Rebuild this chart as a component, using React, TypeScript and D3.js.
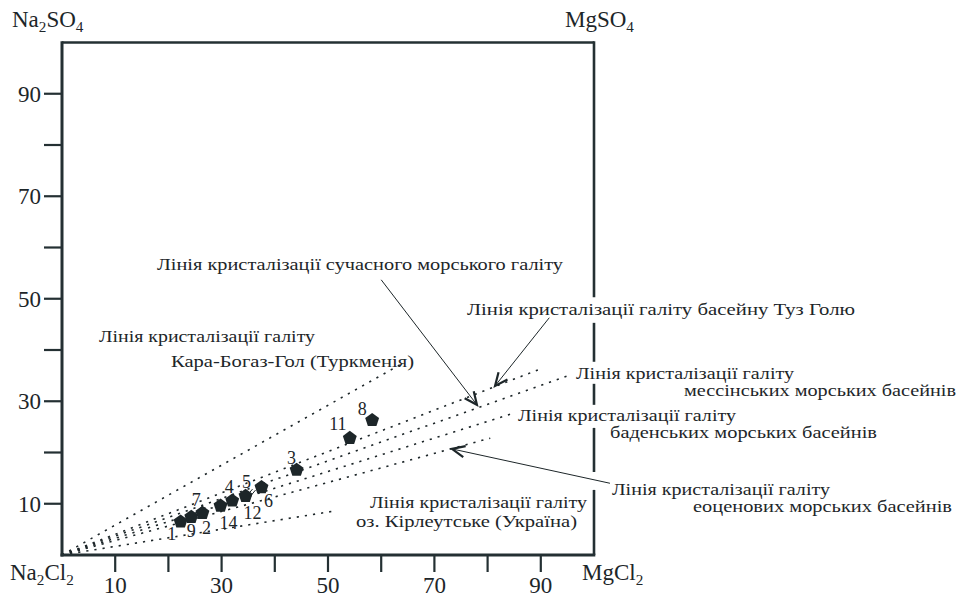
import React from "react";
import * as d3 from "d3";

// ---------- data ----------
const sampleIds = ["1", "9", "2", "14", "4", "12", "6", "3", "11", "8"];
const mgcl2Values = [22.3, 24.3, 26.4, 29.8, 32.0, 34.5, 37.5, 44.1, 54.1, 58.3];
const na2so4Values = [6.5, 7.4, 8.2, 9.6, 10.6, 11.5, 13.2, 16.6, 22.8, 26.3];

// extra number labels attached to points: [pointIndex, text, dx, dy]
const pointLabels: [number, string, number, number][] = [
  [0, "1", -9, 18],
  [1, "9", 0, 20],
  [1, "7", 5, -11],
  [2, "2", 4, 21],
  [3, "14", 8, 23],
  [4, "4", -3, -8],
  [5, "12", 7, 23],
  [5, "5", 1, -8],
  [6, "6", 7, 20],
  [7, "3", -5, -6],
  [8, "11", -12, -8],
  [9, "8", -10, -5],
];
// small double-stroke leaders next to labels: [pointIndex, dx, dy]
const leaderMarks: [number, number, number][] = [
  [1, 10, -8],
  [5, 6, -4],
];

// crystallisation lines (from origin to end point, data units)
const lineNames = ["kbg", "tuz", "modern", "baden", "eocene", "kirleut"];
const lineEndX = [63.5, 90.4, 95.5, 85.0, 80.5, 51.3];
const lineEndY = [37.1, 36.5, 35.1, 27.7, 22.8, 8.6];

const xTicks = [10, 20, 30, 40, 50, 60, 70, 80, 90];
const xTickLabels = [10, 30, 50, 70, 90];
const yTicks = [10, 20, 30, 40, 50, 60, 70, 80, 90];
const yTickLabels = [10, 30, 50, 70, 90];

// annotation arrows: start (x,y) -> tip (x,y) in data units
const arrowStartX = [60.0, 91.6, 103.0];
const arrowStartY = [53.7, 46.3, 14.0];
const arrowTipX = [78.0, 81.4, 73.3];
const arrowTipY = [29.3, 33.0, 20.7];

// gaps in right frame (data y ranges)
const gapFrom = [45.3, 33.4, 24.8, 12.7];
const gapTo = [50.3, 37.7, 29.3, 16.2];

// annotation texts: [text, x, baseline, width]
const notes: [string, number, number, number][] = [
  ["Лінія кристалізації сучасного морського галіту", 157, 270, 406],
  ["Лінія кристалізації галіту басейну Туз Голю", 467, 315, 388],
  ["Лінія кристалізації галіту", 99, 342, 216],
  ["Кара-Богаз-Гол (Туркменія)", 171, 367, 243],
  ["Лінія кристалізації галіту", 576, 379, 218],
  ["мессінських морських басейнів", 684, 396, 272],
  ["Лінія кристалізації галіту", 518, 421, 218],
  ["баденських морських басейнів", 610, 438, 267],
  ["Лінія кристалізації галіту", 612, 495, 218],
  ["еоценових морських басейнів", 693, 512, 259],
  ["Лінія кристалізації галіту", 370, 508, 217],
  ["оз. Кірлеутське (Україна)", 356, 527, 221],
];

const W = 963;
const H = 597;
const x = d3.scaleLinear().domain([0, 100]).range([62, 594]);
const y = d3.scaleLinear().domain([0, 100]).range([555, 42.5]);

const INK = "#1d2629";
const FRAME = "#243033";
const FONT = "'Liberation Serif', 'DejaVu Serif Condensed', 'DejaVu Serif', serif";

function pentagon(cx: number, cy: number, r: number) {
  const pts: [number, number][] = d3.range(5).map((i) => {
    const a = -Math.PI / 2 + (i * 2 * Math.PI) / 5;
    return [cx + r * Math.cos(a), cy + r * Math.sin(a)];
  });
  return d3.line()(pts.concat([pts[0]])) + "Z";
}

function arrowHead(sx: number, sy: number, tx: number, ty: number) {
  const ang = Math.atan2(sy - ty, sx - tx);
  const len = 14;
  const spread = 0.42;
  const p1 = [tx + len * Math.cos(ang + spread), ty + len * Math.sin(ang + spread)];
  const p2 = [tx + len * Math.cos(ang - spread), ty + len * Math.sin(ang - spread)];
  return `M${p1[0]},${p1[1]}L${tx},${ty}L${p2[0]},${p2[1]}`;
}

function Sub({ base, sub, base2, sub2, x0, y0, size }: any) {
  const s = size * 0.66;
  return (
    <text x={x0} y={y0} fontSize={size} fontFamily={FONT} fill={INK}>
      <tspan>{base}</tspan>
      <tspan dy={5} fontSize={s}>{sub}</tspan>
      {base2 ? <tspan dy={-5}>{base2}</tspan> : null}
      {sub2 ? <tspan dy={5} fontSize={s}>{sub2}</tspan> : null}
    </text>
  );
}

export default function App() {
  const rightX = x(100);
  const gaps = gapFrom.map((g, i) => [y(gapTo[i]), y(g)]).sort((a, b) => a[0] - b[0]);
  const segs: [number, number][] = [];
  let cur = y(100);
  gaps.forEach(([a, b]) => {
    segs.push([cur, a]);
    cur = b;
  });
  segs.push([cur, y(0)]);

  const textStyle = { fontFamily: FONT, fill: INK } as const;

  return (
    <svg width={W} height={H} style={{ position: "absolute", left: 0, top: 0, background: "#fff" }}>
      {/* dotted crystallisation lines */}
      {lineNames.map((n, i) => (
        <line
          key={n}
          x1={x(0)}
          y1={y(0)}
          x2={x(lineEndX[i])}
          y2={y(lineEndY[i])}
          stroke={INK}
          strokeWidth={1.6}
          strokeDasharray="2.2 6"
        />
      ))}

      {/* frame */}
      <line x1={x(0)} y1={y(100)} x2={rightX} y2={y(100)} stroke={FRAME} strokeWidth={2.6} />
      <line x1={x(0)} y1={y(100) - 1.3} x2={x(0)} y2={y(0) + 1.5} stroke={FRAME} strokeWidth={3} />
      <line x1={x(0) - 1.5} y1={y(0)} x2={rightX + 1.3} y2={y(0)} stroke={FRAME} strokeWidth={3} />
      {segs.map(([a, b], i) => (
        <line key={i} x1={rightX} y1={a - (i === 0 ? 1.3 : 0)} x2={rightX} y2={b} stroke={FRAME} strokeWidth={2.6} />
      ))}

      {/* ticks */}
      {xTicks.map((t) => (
        <line key={"xt" + t} x1={x(t)} y1={y(0)} x2={x(t)} y2={y(0) + 17} stroke={FRAME} strokeWidth={2.2} />
      ))}
      {yTicks.map((t) => (
        <line key={"yt" + t} x1={x(0)} y1={y(t)} x2={x(0) - 18} y2={y(t)} stroke={FRAME} strokeWidth={2.2} />
      ))}
      {xTickLabels.map((t) => (
        <text key={"xl" + t} x={x(t)} y={593} textAnchor="middle" fontSize={23} {...textStyle}>
          {t}
        </text>
      ))}
      {yTickLabels.map((t) => (
        <text key={"yl" + t} x={41} y={y(t) + 8} textAnchor="end" fontSize={23} {...textStyle}>
          {t}
        </text>
      ))}

      {/* corner labels */}
      <Sub base="Na" sub="2" base2="SO" sub2="4" x0={12} y0={27} size={23} />
      <Sub base="MgSO" sub="4" x0={565} y0={27} size={23} />
      <Sub base="Na" sub="2" base2="Cl" sub2="2" x0={10} y0={580} size={23} />
      <Sub base="MgCl" sub="2" x0={582} y0={580} size={23} />

      {/* points */}
      {sampleIds.map((id, i) => (
        <path key={"p" + id} d={pentagon(x(mgcl2Values[i]), y(na2so4Values[i]), 7.3)} fill={INK} />
      ))}
      {pointLabels.map(([pi, t, dx, dy], i) => (
        <text
          key={"pl" + i}
          x={x(mgcl2Values[pi]) + dx}
          y={y(na2so4Values[pi]) + dy}
          textAnchor="middle"
          fontSize={18}
          {...textStyle}
        >
          {t}
        </text>
      ))}
      {leaderMarks.map(([pi, dx, dy], i) => {
        const cx = x(mgcl2Values[pi]) + dx;
        const cy = y(na2so4Values[pi]) + dy;
        return (
          <g key={"lm" + i} stroke={INK} strokeWidth={1}>
            <line x1={cx - 4} y1={cy + 3} x2={cx + 1} y2={cy - 3} />
            <line x1={cx - 1} y1={cy + 4} x2={cx + 4} y2={cy - 2} />
          </g>
        );
      })}

      {/* arrows */}
      {arrowStartX.map((sx, i) => {
        const X1 = x(sx), Y1 = y(arrowStartY[i]), X2 = x(arrowTipX[i]), Y2 = y(arrowTipY[i]);
        return (
          <g key={"ar" + i}>
            <line x1={X1} y1={Y1} x2={X2} y2={Y2} stroke={INK} strokeWidth={1} />
            <path d={arrowHead(X1, Y1, X2, Y2)} fill="none" stroke={INK} strokeWidth={2.2} />
          </g>
        );
      })}

      {/* annotations */}
      {notes.map(([t, tx, ty, tw], i) => (
        <text key={"n" + i} x={tx} y={ty} fontSize={17.5} textLength={tw} lengthAdjust="spacingAndGlyphs" {...textStyle}>
          {t}
        </text>
      ))}
    </svg>
  );
}
